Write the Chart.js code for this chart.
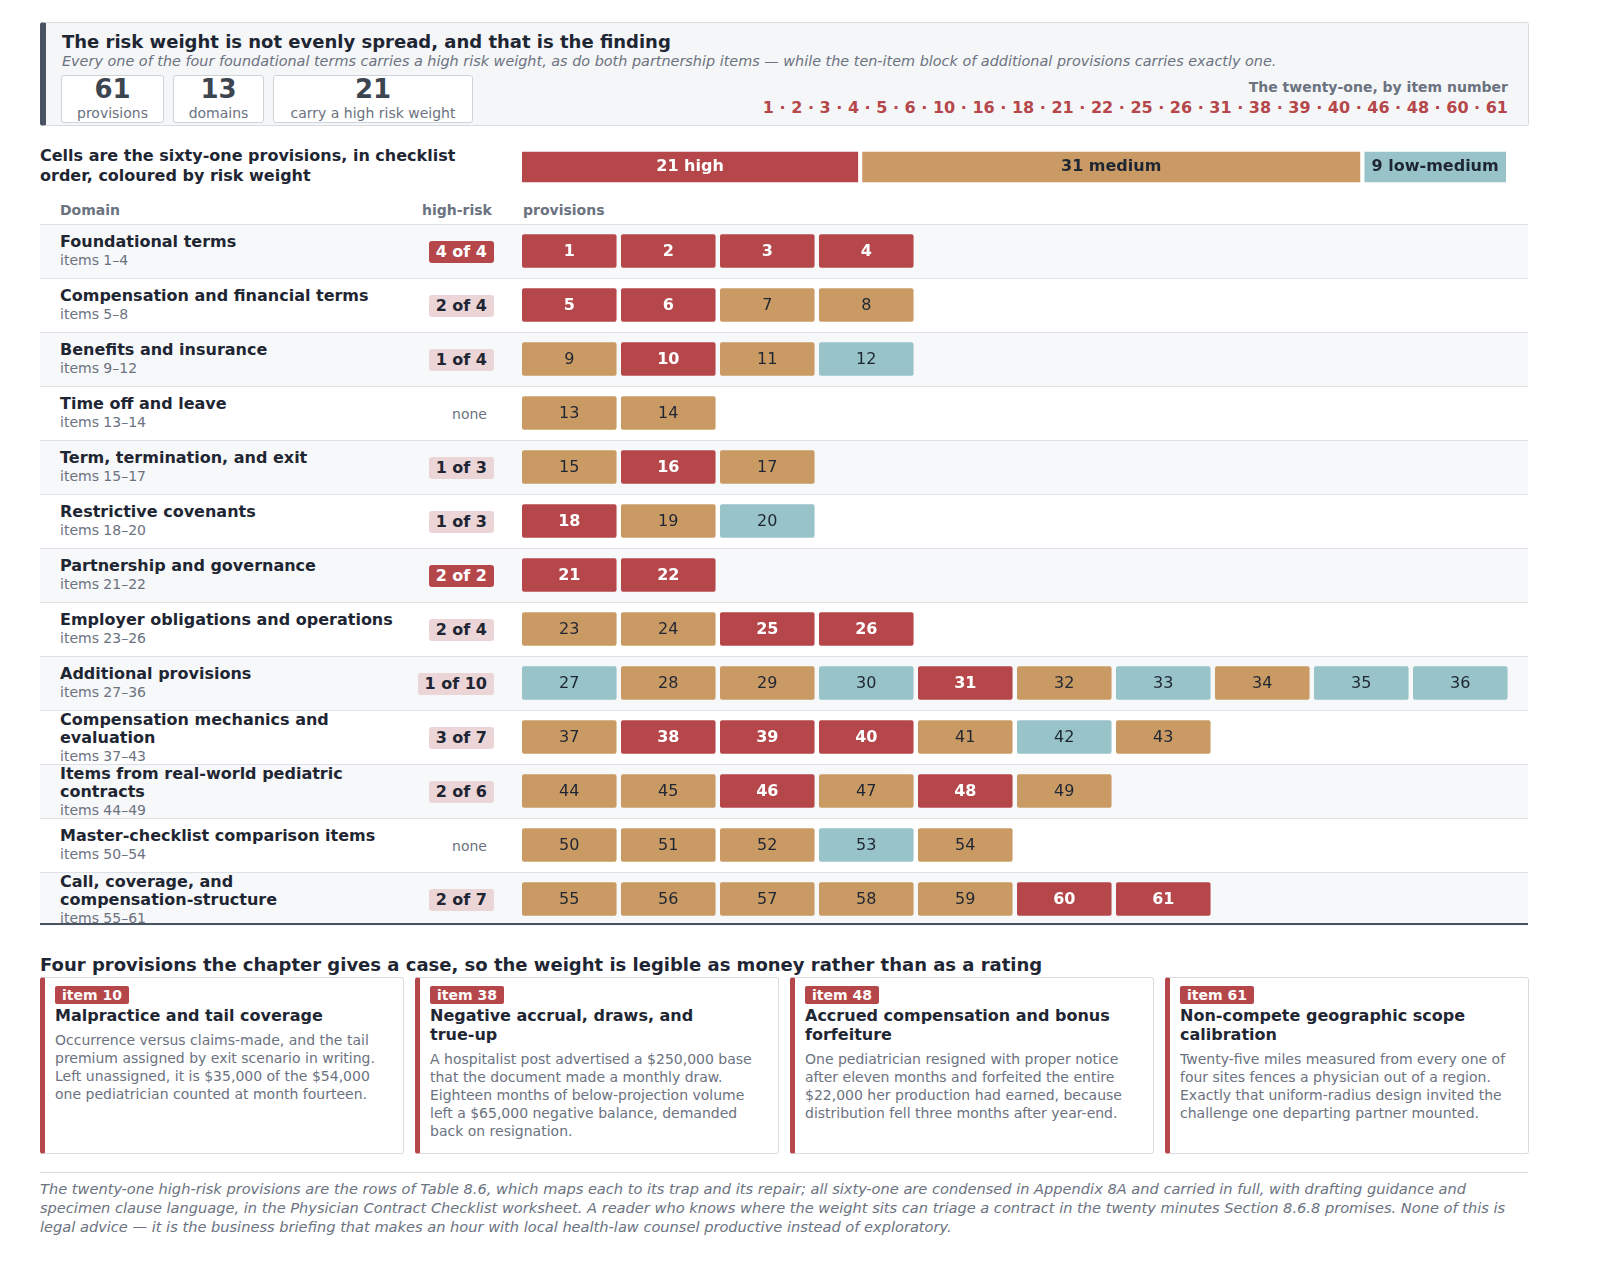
<!DOCTYPE html>
<html><head><meta charset="utf-8">
<script src="https://cdn.jsdelivr.net/npm/chart.js@4"></script>
<style>
body{margin:0;background:#fff;font-family:"DejaVu Sans",sans-serif;color:#1f2633;width:1600px;height:1275px;position:relative;overflow:hidden}
.abs{position:absolute}
.hdr{left:40px;top:22px;width:1482px;height:102px;background:#f5f6f8;border:1px solid #d9dde3;border-left:6px solid #4a5361;border-radius:3px}
.stat{position:absolute;top:52px;height:46px;border:1px solid #cfd4da;border-radius:3px;background:#fff;text-align:center}
.stat b{display:block;font-size:26px;line-height:27px;color:#3d4551}
.stat span{font-size:14px;color:#6b7280}
.row{position:absolute;left:40px;width:1488px;height:53px;border-top:1px solid #dde0e4}
.dn{position:absolute;left:20px;top:8px;font-weight:bold;font-size:16px;line-height:18px;width:340px}
.ds{font-weight:normal;font-size:14px;color:#6b7280}
.bd{position:absolute;right:1034px;top:16px;font-weight:bold;font-size:16px;padding:1px 7px;border-radius:3px;line-height:20px}
.card{position:absolute;top:977px;width:358px;height:175px;border:1px solid #d9dde3;border-left:5px solid #b5474b;border-radius:3px}
.tag{position:absolute;left:10px;top:8px;background:#b5474b;color:#fff;font-weight:bold;font-size:14px;padding:0 7px;line-height:18px;border-radius:2px}
.ct{position:absolute;left:10px;top:28px;width:334px;font-weight:bold;font-size:16px;line-height:19px}
.cb{font-weight:normal;font-size:14px;line-height:18px;color:#6b7280;margin-top:6px}
</style></head><body>
<div class="abs hdr">
 <div class="abs" style="left:16px;top:8px;font-size:18px;font-weight:bold">The risk weight is not evenly spread, and that is the finding</div>
 <div class="abs" style="left:16px;top:30px;font-size:14.4px;font-style:italic;color:#6b7280;white-space:nowrap">Every one of the four foundational terms carries a high risk weight, as do both partnership items — while the ten-item block of additional provisions carries exactly one.</div>
 <div class="stat" style="left:15px;width:101px"><b>61</b><span>provisions</span></div>
 <div class="stat" style="left:127px;width:89px"><b>13</b><span>domains</span></div>
 <div class="stat" style="left:227px;width:198px"><b>21</b><span>carry a high risk weight</span></div>
 <div class="abs" style="right:20px;top:56px;font-size:14px;font-weight:bold;color:#6b7280">The twenty-one, by item number</div>
 <div class="abs" id="hlist" style="right:20px;top:75px;font-size:16px;font-weight:bold;color:#b5474b;white-space:nowrap"></div>
</div>
<div class="abs" style="left:40px;top:146px;font-size:16px;font-weight:bold;line-height:20px">Cells are the sixty-one provisions, in checklist<br>order, coloured by risk weight</div>
<div class="abs" style="left:518px;top:147px;width:996px;height:40px"><canvas id="sum" width="996" height="40"></canvas></div>
<div class="abs" style="left:60px;top:202px;font-size:14px;font-weight:bold;color:#6b7280">Domain</div>
<div class="abs" style="left:422px;top:202px;font-size:14px;font-weight:bold;color:#6b7280">high-risk</div>
<div class="abs" style="left:523px;top:202px;font-size:14px;font-weight:bold;color:#6b7280">provisions</div>
<div id="rows"></div>
<div class="abs" style="left:40px;top:923px;width:1488px;border-top:2px solid #4a5361"></div>
<div class="abs" style="left:518px;top:224px;width:996px;height:702px"><canvas id="grid" width="996" height="702"></canvas></div>
<div class="abs" style="left:40px;top:954px;font-size:18px;font-weight:bold">Four provisions the chapter gives a case, so the weight is legible as money rather than as a rating</div>
<div id="cards"></div>
<div class="abs" style="left:40px;top:1172px;width:1488px;border-top:1px solid #d9dde3"></div>
<div class="abs" style="left:40px;top:1179px;width:1488px;font-size:14.6px;font-style:italic;color:#6b7280;line-height:19px">The twenty-one high-risk provisions are the rows of Table 8.6, which maps each to its trap and its repair; all sixty-one are condensed in Appendix 8A and carried in full, with drafting guidance and specimen clause language, in the Physician Contract Checklist worksheet. A reader who knows where the weight sits can triage a contract in the twenty minutes Section 8.6.8 promises. None of this is legal advice — it is the business briefing that makes an hour with local health-law counsel productive instead of exploratory.</div>
<script>
const domains=["Foundational terms","Compensation and financial terms","Benefits and insurance","Time off and leave","Term, termination, and exit","Restrictive covenants","Partnership and governance","Employer obligations and operations","Additional provisions","Compensation mechanics and evaluation","Items from real-world pediatric contracts","Master-checklist comparison items","Call, coverage, and compensation-structure"];
const domainFirst=[1,5,9,13,15,18,21,23,27,37,44,50,55];
const domainCount=[4,4,4,2,3,3,2,4,10,7,6,5,7];
const highItems=[1,2,3,4,5,6,10,16,18,21,22,25,26,31,38,39,40,46,48,60,61];
const lowMedItems=[12,20,27,30,33,35,36,42,53];
const riskTotals=[21,31,9];
const riskNames=["high","medium","low-medium"];
const cardItems=[10,38,48,61];
const cardTitles=["Malpractice and tail coverage","Negative accrual, draws, and true\u2011up","Accrued compensation and bonus forfeiture","Non-compete geographic scope calibration"];
const cardTexts=["Occurrence versus claims-made, and the tail premium assigned by exit scenario in writing. Left unassigned, it is $35,000 of the $54,000 one pediatrician counted at month fourteen.","A hospitalist post advertised a $250,000 base that the document made a monthly draw. Eighteen months of below-projection volume left a $65,000 negative balance, demanded back on resignation.","One pediatrician resigned with proper notice after eleven months and forfeited the entire $22,000 her production had earned, because distribution fell three months after year-end.","Twenty-five miles measured from every one of four sites fences a physician out of a region. Exactly that uniform-radius design invited the challenge one departing partner mounted."];
const COL={high:"#b5474b",medium:"#c99a63",low:"#97c3c9"};
const risk=n=>highItems.includes(n)?"high":lowMedItems.includes(n)?"low":"medium";
const twoLine=[9,10,12];

document.getElementById('hlist').textContent=highItems.join(" · ");
let rh="";
domains.forEach((d,i)=>{
 const f=domainFirst[i],c=domainCount[i],last=f+c-1;
 let h=0;for(let k=f;k<=last;k++)if(risk(k)==="high")h++;
 const two=twoLine.includes(i);
 let badge;
 if(h===0)badge=`<div class="bd" style="font-weight:normal;font-size:14px;color:#6b7280">none</div>`;
 else if(h===c)badge=`<div class="bd" style="background:#b5474b;color:#fff">${h} of ${c}</div>`;
 else badge=`<div class="bd" style="background:#ecd5d6;color:#1f2633">${h} of ${c}</div>`;
 rh+=`<div class="row" style="top:${224+i*54}px;background:${i%2?'#fff':'#f7f8f9'}"><div class="dn" style="top:${two?0:8}px;width:${two?300:380}px">${d}<div class="ds">items ${f}–${last}</div></div>${badge}</div>`;
});
document.getElementById('rows').innerHTML=rh;
let ch="";
cardItems.forEach((n,i)=>{ch+=`<div class="card" style="left:${40+i*375}px"><div class="tag">item ${n}</div><div class="ct">${cardTitles[i]}<div class="cb">${cardTexts[i]}</div></div></div>`;});
document.getElementById('cards').innerHTML=ch;

Chart.defaults.font.family="DejaVu Sans";
new Chart(document.getElementById('sum'),{type:'bar',
 data:{labels:[""],datasets:riskNames.map((n,i)=>({label:n,data:[riskTotals[i]],backgroundColor:[COL.high,COL.medium,COL.low][i],borderColor:"#fff",borderWidth:{right:4},borderSkipped:false,barPercentage:1,categoryPercentage:0.78}))},
 options:{indexAxis:'y',responsive:false,animation:false,maintainAspectRatio:false,layout:{padding:{left:4,right:4}},
  scales:{x:{stacked:true,display:false,min:0,max:61},y:{stacked:true,display:false}},
  plugins:{legend:{display:false},tooltip:{enabled:false}}},
 plugins:[{id:'lbl',afterDatasetsDraw(c){const x=c.ctx;x.save();x.font="bold 16px DejaVu Sans";x.textAlign="center";x.textBaseline="middle";
  c.data.datasets.forEach((d,i)=>{const b=c.getDatasetMeta(i).data[0];x.fillStyle=i===0?"#fff":"#1f2633";x.fillText(riskTotals[i]+" "+riskNames[i],(b.base+b.x)/2-2,b.y);});x.restore();}}]
});
const maxCols=10;
const datasets=[];
for(let col=0;col<maxCols;col++){
 const data=[],colors=[],nums=[];
 domains.forEach((d,i)=>{ if(col<domainCount[i]){const n=domainFirst[i]+col;data.push([col,col+0.955]);colors.push(COL[risk(n)]);nums.push(n);} else {data.push(null);colors.push("transparent");nums.push(null);} });
 datasets.push({data,backgroundColor:colors,nums,borderRadius:2,borderSkipped:false,barPercentage:0.62,categoryPercentage:1});
}
new Chart(document.getElementById('grid'),{type:'bar',data:{labels:domains,datasets},
 options:{indexAxis:'y',responsive:false,animation:false,maintainAspectRatio:false,layout:{padding:{left:4,right:2}},
  scales:{x:{display:false,min:0,max:10},y:{display:false,stacked:true}},
  plugins:{legend:{display:false},tooltip:{enabled:false}}},
 plugins:[{id:'nums',afterDatasetsDraw(c){const x=c.ctx;x.save();x.textAlign="center";x.textBaseline="middle";
  c.data.datasets.forEach((d,di)=>{c.getDatasetMeta(di).data.forEach((b,j)=>{const n=d.nums[j];if(n==null)return;const h=risk(n)==="high";
   x.font=(h?"bold ":"")+"16px DejaVu Sans";x.fillStyle=h?"#fff":"#1f2633";x.fillText(n,(b.base+b.x)/2,b.y+1);});});x.restore();}}]
});
</script>
</body></html>
